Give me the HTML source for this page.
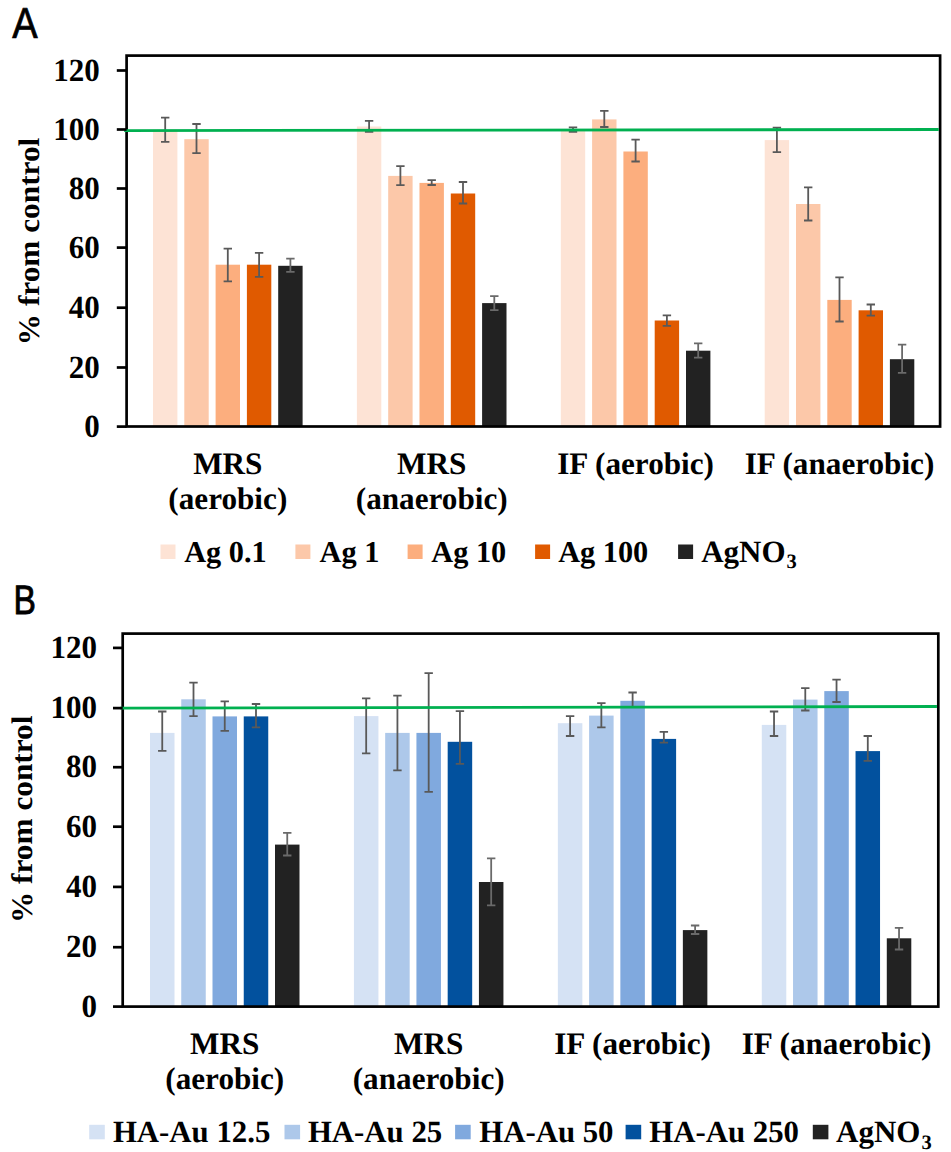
<!DOCTYPE html>
<html><head><meta charset="utf-8"><style>
html,body{margin:0;padding:0;background:#fff;width:951px;height:1152px;overflow:hidden}
svg{display:block}
text{font-family:"Liberation Serif",serif;font-weight:bold;fill:#000;text-rendering:geometricPrecision}
.pl{font-family:"Liberation Sans",sans-serif;font-weight:normal}
</style></head><body>
<svg width="951" height="1152" viewBox="0 0 951 1152">
<rect width="951" height="1152" fill="#fff"/>
<text class="pl" x="12.2" y="37.9" font-size="43.3" stroke="#000" stroke-width="0.7" transform="translate(12 38) scale(0.88 1) translate(-12 -38)">A</text>
<text class="pl" x="13.2" y="614.1" font-size="41" stroke="#000" stroke-width="0.9" transform="translate(15 615) scale(0.82 1) translate(-15 -615)">B</text>
<rect x="153.00" y="129.70" width="24.4" height="296.80" fill="#FDE3D5"/>
<rect x="184.30" y="139.20" width="24.4" height="287.30" fill="#FCC8A9"/>
<rect x="215.60" y="264.70" width="24.4" height="161.80" fill="#FCAE7E"/>
<rect x="246.90" y="264.70" width="24.4" height="161.80" fill="#E05A00"/>
<rect x="278.20" y="265.80" width="24.4" height="160.70" fill="#222222"/>
<rect x="356.90" y="126.50" width="24.4" height="300.00" fill="#FDE3D5"/>
<rect x="388.20" y="175.90" width="24.4" height="250.60" fill="#FCC8A9"/>
<rect x="419.50" y="182.90" width="24.4" height="243.60" fill="#FCAE7E"/>
<rect x="450.80" y="193.50" width="24.4" height="233.00" fill="#E05A00"/>
<rect x="482.10" y="303.10" width="24.4" height="123.40" fill="#222222"/>
<rect x="560.80" y="129.60" width="24.4" height="296.90" fill="#FDE3D5"/>
<rect x="592.10" y="119.40" width="24.4" height="307.10" fill="#FCC8A9"/>
<rect x="623.40" y="151.50" width="24.4" height="275.00" fill="#FCAE7E"/>
<rect x="654.70" y="320.50" width="24.4" height="106.00" fill="#E05A00"/>
<rect x="686.00" y="350.70" width="24.4" height="75.80" fill="#222222"/>
<rect x="764.70" y="140.10" width="24.4" height="286.40" fill="#FDE3D5"/>
<rect x="796.00" y="204.00" width="24.4" height="222.50" fill="#FCC8A9"/>
<rect x="827.30" y="299.90" width="24.4" height="126.60" fill="#FCAE7E"/>
<rect x="858.60" y="310.30" width="24.4" height="116.20" fill="#E05A00"/>
<rect x="889.90" y="359.20" width="24.4" height="67.30" fill="#222222"/>
<path d="M165.20 117.60V141.80M161.00 117.60H169.40M161.00 141.80H169.40" stroke="#595959" stroke-width="1.8" fill="none"/>
<path d="M196.50 124.00V153.20M192.30 124.00H200.70M192.30 153.20H200.70" stroke="#595959" stroke-width="1.8" fill="none"/>
<path d="M227.80 248.60V281.30M223.60 248.60H232.00M223.60 281.30H232.00" stroke="#595959" stroke-width="1.8" fill="none"/>
<path d="M259.10 252.90V276.80M254.90 252.90H263.30M254.90 276.80H263.30" stroke="#595959" stroke-width="1.8" fill="none"/>
<path d="M290.40 258.60V271.90M286.20 258.60H294.60M286.20 271.90H294.60" stroke="#6a6a6a" stroke-width="1.8" fill="none"/>
<path d="M369.10 120.80V131.80M364.90 120.80H373.30M364.90 131.80H373.30" stroke="#595959" stroke-width="1.8" fill="none"/>
<path d="M400.40 166.20V185.20M396.20 166.20H404.60M396.20 185.20H404.60" stroke="#595959" stroke-width="1.8" fill="none"/>
<path d="M431.70 180.10V185.00M427.50 180.10H435.90M427.50 185.00H435.90" stroke="#595959" stroke-width="1.8" fill="none"/>
<path d="M463.00 182.00V203.50M458.80 182.00H467.20M458.80 203.50H467.20" stroke="#595959" stroke-width="1.8" fill="none"/>
<path d="M494.30 296.20V310.10M490.10 296.20H498.50M490.10 310.10H498.50" stroke="#6a6a6a" stroke-width="1.8" fill="none"/>
<path d="M573.00 127.40V131.80M568.80 127.40H577.20M568.80 131.80H577.20" stroke="#595959" stroke-width="1.8" fill="none"/>
<path d="M604.30 110.90V127.00M600.10 110.90H608.50M600.10 127.00H608.50" stroke="#595959" stroke-width="1.8" fill="none"/>
<path d="M635.60 139.60V161.50M631.40 139.60H639.80M631.40 161.50H639.80" stroke="#595959" stroke-width="1.8" fill="none"/>
<path d="M666.90 315.40V325.90M662.70 315.40H671.10M662.70 325.90H671.10" stroke="#595959" stroke-width="1.8" fill="none"/>
<path d="M698.20 343.40V357.70M694.00 343.40H702.40M694.00 357.70H702.40" stroke="#6a6a6a" stroke-width="1.8" fill="none"/>
<path d="M776.90 127.70V152.20M772.70 127.70H781.10M772.70 152.20H781.10" stroke="#595959" stroke-width="1.8" fill="none"/>
<path d="M808.20 187.40V220.50M804.00 187.40H812.40M804.00 220.50H812.40" stroke="#595959" stroke-width="1.8" fill="none"/>
<path d="M839.50 277.30V321.50M835.30 277.30H843.70M835.30 321.50H843.70" stroke="#595959" stroke-width="1.8" fill="none"/>
<path d="M870.80 304.50V315.70M866.60 304.50H875.00M866.60 315.70H875.00" stroke="#595959" stroke-width="1.8" fill="none"/>
<path d="M902.10 344.60V372.80M897.90 344.60H906.30M897.90 372.80H906.30" stroke="#6a6a6a" stroke-width="1.8" fill="none"/>
<rect x="126.6" y="55.6" width="813.50" height="370.90" fill="none" stroke="#000" stroke-width="2.7"/>
<line x1="124.20" y1="130.6" x2="938.75" y2="129.5" stroke="#00B050" stroke-width="2.9"/>
<line x1="116.8" y1="70.5" x2="126.6" y2="70.5" stroke="#000" stroke-width="2.7"/>
<text x="99.8" y="80.80" text-anchor="end" font-size="31" transform="translate(0 80.80) scale(1 1.04) translate(0 -80.80)">120</text>
<line x1="116.8" y1="129.5" x2="126.6" y2="129.5" stroke="#000" stroke-width="2.7"/>
<text x="99.8" y="139.80" text-anchor="end" font-size="31" transform="translate(0 139.80) scale(1 1.04) translate(0 -139.80)">100</text>
<line x1="116.8" y1="188.5" x2="126.6" y2="188.5" stroke="#000" stroke-width="2.7"/>
<text x="99.8" y="198.80" text-anchor="end" font-size="31" transform="translate(0 198.80) scale(1 1.04) translate(0 -198.80)">80</text>
<line x1="116.8" y1="247.6" x2="126.6" y2="247.6" stroke="#000" stroke-width="2.7"/>
<text x="99.8" y="257.90" text-anchor="end" font-size="31" transform="translate(0 257.90) scale(1 1.04) translate(0 -257.90)">60</text>
<line x1="116.8" y1="307.7" x2="126.6" y2="307.7" stroke="#000" stroke-width="2.7"/>
<text x="99.8" y="318.00" text-anchor="end" font-size="31" transform="translate(0 318.00) scale(1 1.04) translate(0 -318.00)">40</text>
<line x1="116.8" y1="367.5" x2="126.6" y2="367.5" stroke="#000" stroke-width="2.7"/>
<text x="99.8" y="377.80" text-anchor="end" font-size="31" transform="translate(0 377.80) scale(1 1.04) translate(0 -377.80)">20</text>
<line x1="116.8" y1="426.6" x2="126.6" y2="426.6" stroke="#000" stroke-width="2.7"/>
<text x="99.8" y="436.90" text-anchor="end" font-size="31" transform="translate(0 436.90) scale(1 1.04) translate(0 -436.90)">0</text>
<text x="227.80" y="474.2" text-anchor="middle" font-size="31.2">MRS</text>
<text x="227.80" y="508.90" text-anchor="middle" font-size="31.2">(aerobic)</text>
<text x="431.70" y="474.2" text-anchor="middle" font-size="31.2">MRS</text>
<text x="431.70" y="508.90" text-anchor="middle" font-size="31.2">(anaerobic)</text>
<text x="635.60" y="474.2" text-anchor="middle" font-size="31.2">IF (aerobic)</text>
<text x="839.50" y="474.2" text-anchor="middle" font-size="31.2">IF (anaerobic)</text>
<text transform="translate(28.3 241.5) rotate(-90) scale(1 0.95)" x="0" y="11" text-anchor="middle" font-size="31.3">% from control</text>
<rect x="160.5" y="544.5" width="15" height="14.5" fill="#FDE3D5"/>
<text x="184.2" y="561.5" font-size="30.3">Ag 0.1</text>
<rect x="295.4" y="544.5" width="15" height="14.5" fill="#FCC8A9"/>
<text x="319.6" y="561.5" font-size="30.3">Ag 1</text>
<rect x="407.6" y="544.5" width="15" height="14.5" fill="#FCAE7E"/>
<text x="431.3" y="561.5" font-size="30.3">Ag 10</text>
<rect x="535.1" y="544.5" width="15" height="14.5" fill="#E05A00"/>
<text x="558.2" y="561.5" font-size="30.3">Ag 100</text>
<rect x="678.1" y="544.5" width="15" height="14.5" fill="#222222"/>
<text x="701.2" y="561.5" font-size="31">AgNO<tspan font-size="20.5" dx="1" dy="6.5">3</tspan></text>
<rect x="150.00" y="732.90" width="24.5" height="273.70" fill="#D5E2F4"/>
<rect x="181.25" y="699.30" width="24.5" height="307.30" fill="#ADC8EA"/>
<rect x="212.50" y="716.40" width="24.5" height="290.20" fill="#80A9DE"/>
<rect x="243.75" y="716.40" width="24.5" height="290.20" fill="#02519E"/>
<rect x="275.00" y="844.60" width="24.5" height="162.00" fill="#222222"/>
<rect x="353.93" y="716.10" width="24.5" height="290.50" fill="#D5E2F4"/>
<rect x="385.18" y="732.90" width="24.5" height="273.70" fill="#ADC8EA"/>
<rect x="416.43" y="732.90" width="24.5" height="273.70" fill="#80A9DE"/>
<rect x="447.68" y="741.80" width="24.5" height="264.80" fill="#02519E"/>
<rect x="478.93" y="882.00" width="24.5" height="124.60" fill="#222222"/>
<rect x="557.86" y="723.20" width="24.5" height="283.40" fill="#D5E2F4"/>
<rect x="589.11" y="715.60" width="24.5" height="291.00" fill="#ADC8EA"/>
<rect x="620.36" y="700.80" width="24.5" height="305.80" fill="#80A9DE"/>
<rect x="651.61" y="738.90" width="24.5" height="267.70" fill="#02519E"/>
<rect x="682.86" y="930.10" width="24.5" height="76.50" fill="#222222"/>
<rect x="761.79" y="724.90" width="24.5" height="281.70" fill="#D5E2F4"/>
<rect x="793.04" y="699.60" width="24.5" height="307.00" fill="#ADC8EA"/>
<rect x="824.29" y="691.10" width="24.5" height="315.50" fill="#80A9DE"/>
<rect x="855.54" y="751.10" width="24.5" height="255.50" fill="#02519E"/>
<rect x="886.79" y="938.30" width="24.5" height="68.30" fill="#222222"/>
<path d="M162.25 711.50V750.80M158.05 711.50H166.45M158.05 750.80H166.45" stroke="#595959" stroke-width="1.8" fill="none"/>
<path d="M193.50 682.60V716.10M189.30 682.60H197.70M189.30 716.10H197.70" stroke="#595959" stroke-width="1.8" fill="none"/>
<path d="M224.75 701.30V730.90M220.55 701.30H228.95M220.55 730.90H228.95" stroke="#595959" stroke-width="1.8" fill="none"/>
<path d="M256.00 704.00V727.30M251.80 704.00H260.20M251.80 727.30H260.20" stroke="#595959" stroke-width="1.8" fill="none"/>
<path d="M287.25 832.90V855.50M283.05 832.90H291.45M283.05 855.50H291.45" stroke="#6a6a6a" stroke-width="1.8" fill="none"/>
<path d="M366.18 698.40V753.30M361.98 698.40H370.38M361.98 753.30H370.38" stroke="#595959" stroke-width="1.8" fill="none"/>
<path d="M397.43 695.70V770.30M393.23 695.70H401.63M393.23 770.30H401.63" stroke="#595959" stroke-width="1.8" fill="none"/>
<path d="M428.68 673.10V791.90M424.48 673.10H432.88M424.48 791.90H432.88" stroke="#595959" stroke-width="1.8" fill="none"/>
<path d="M459.93 711.20V763.90M455.73 711.20H464.13M455.73 763.90H464.13" stroke="#595959" stroke-width="1.8" fill="none"/>
<path d="M491.18 858.40V905.30M486.98 858.40H495.38M486.98 905.30H495.38" stroke="#6a6a6a" stroke-width="1.8" fill="none"/>
<path d="M570.11 716.10V736.00M565.91 716.10H574.31M565.91 736.00H574.31" stroke="#595959" stroke-width="1.8" fill="none"/>
<path d="M601.36 703.20V727.30M597.16 703.20H605.56M597.16 727.30H605.56" stroke="#595959" stroke-width="1.8" fill="none"/>
<path d="M632.61 692.50V707.00M628.41 692.50H636.81M628.41 707.00H636.81" stroke="#595959" stroke-width="1.8" fill="none"/>
<path d="M663.86 731.90V742.60M659.66 731.90H668.06M659.66 742.60H668.06" stroke="#595959" stroke-width="1.8" fill="none"/>
<path d="M695.11 925.50V934.00M690.91 925.50H699.31M690.91 934.00H699.31" stroke="#6a6a6a" stroke-width="1.8" fill="none"/>
<path d="M774.04 711.50V736.00M769.84 711.50H778.24M769.84 736.00H778.24" stroke="#595959" stroke-width="1.8" fill="none"/>
<path d="M805.29 688.20V710.50M801.09 688.20H809.49M801.09 710.50H809.49" stroke="#595959" stroke-width="1.8" fill="none"/>
<path d="M836.54 679.70V702.00M832.34 679.70H840.74M832.34 702.00H840.74" stroke="#595959" stroke-width="1.8" fill="none"/>
<path d="M867.79 736.00V760.80M863.59 736.00H871.99M863.59 760.80H871.99" stroke="#595959" stroke-width="1.8" fill="none"/>
<path d="M899.04 927.80V949.50M894.84 927.80H903.24M894.84 949.50H903.24" stroke="#6a6a6a" stroke-width="1.8" fill="none"/>
<rect x="122.7" y="633.6" width="815.60" height="373.00" fill="none" stroke="#000" stroke-width="2.7"/>
<line x1="120.30" y1="708.1" x2="936.95" y2="706.5" stroke="#00B050" stroke-width="2.9"/>
<line x1="113.0" y1="647.9" x2="122.7" y2="647.9" stroke="#000" stroke-width="2.7"/>
<text x="96.9" y="657.90" text-anchor="end" font-size="31" transform="translate(0 657.90) scale(1 1.04) translate(0 -657.90)">120</text>
<line x1="113.0" y1="708.1" x2="122.7" y2="708.1" stroke="#000" stroke-width="2.7"/>
<text x="96.9" y="718.10" text-anchor="end" font-size="31" transform="translate(0 718.10) scale(1 1.04) translate(0 -718.10)">100</text>
<line x1="113.0" y1="767.2" x2="122.7" y2="767.2" stroke="#000" stroke-width="2.7"/>
<text x="96.9" y="777.20" text-anchor="end" font-size="31" transform="translate(0 777.20) scale(1 1.04) translate(0 -777.20)">80</text>
<line x1="113.0" y1="826.7" x2="122.7" y2="826.7" stroke="#000" stroke-width="2.7"/>
<text x="96.9" y="836.70" text-anchor="end" font-size="31" transform="translate(0 836.70) scale(1 1.04) translate(0 -836.70)">60</text>
<line x1="113.0" y1="886.9" x2="122.7" y2="886.9" stroke="#000" stroke-width="2.7"/>
<text x="96.9" y="896.90" text-anchor="end" font-size="31" transform="translate(0 896.90) scale(1 1.04) translate(0 -896.90)">40</text>
<line x1="113.0" y1="947.2" x2="122.7" y2="947.2" stroke="#000" stroke-width="2.7"/>
<text x="96.9" y="957.20" text-anchor="end" font-size="31" transform="translate(0 957.20) scale(1 1.04) translate(0 -957.20)">20</text>
<line x1="113.0" y1="1006.6" x2="122.7" y2="1006.6" stroke="#000" stroke-width="2.7"/>
<text x="96.9" y="1016.60" text-anchor="end" font-size="31" transform="translate(0 1016.60) scale(1 1.04) translate(0 -1016.60)">0</text>
<text x="224.75" y="1053.6" text-anchor="middle" font-size="31.2">MRS</text>
<text x="224.75" y="1088.90" text-anchor="middle" font-size="31.2">(aerobic)</text>
<text x="428.68" y="1053.6" text-anchor="middle" font-size="31.2">MRS</text>
<text x="428.68" y="1088.90" text-anchor="middle" font-size="31.2">(anaerobic)</text>
<text x="632.61" y="1053.6" text-anchor="middle" font-size="31.2">IF (aerobic)</text>
<text x="836.54" y="1053.6" text-anchor="middle" font-size="31.2">IF (anaerobic)</text>
<text transform="translate(21.9 819.3) rotate(-90) scale(1 0.95)" x="0" y="11" text-anchor="middle" font-size="31.3">% from control</text>
<rect x="89.2" y="1124.8" width="15.6" height="14.5" fill="#D5E2F4"/>
<text x="112.9" y="1142" font-size="30.8">HA-Au 12.5</text>
<rect x="284.5" y="1124.8" width="15.6" height="14.5" fill="#ADC8EA"/>
<text x="307.9" y="1142" font-size="30.8">HA-Au 25</text>
<rect x="455.1" y="1124.8" width="15.6" height="14.5" fill="#80A9DE"/>
<text x="479.2" y="1142" font-size="30.8">HA-Au 50</text>
<rect x="625.6" y="1124.8" width="15.6" height="14.5" fill="#02519E"/>
<text x="649.3" y="1142" font-size="30.8">HA-Au 250</text>
<rect x="812.8" y="1124.8" width="15.6" height="14.5" fill="#222222"/>
<text x="836.1" y="1142" font-size="31">AgNO<tspan font-size="20.5" dx="1" dy="6.5">3</tspan></text>
</svg>
</body></html>
